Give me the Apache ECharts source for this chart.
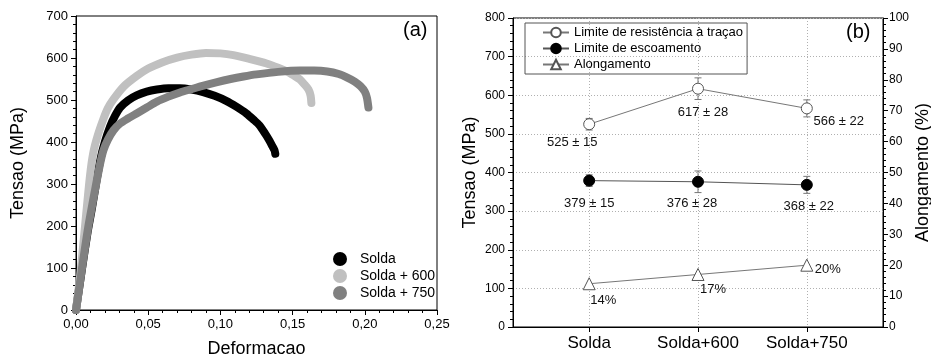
<!DOCTYPE html>
<html>
<head>
<meta charset="utf-8">
<script src="https://cdn.jsdelivr.net/npm/echarts@6/dist/echarts.min.js"></script>
<style>
html,body{margin:0;padding:0;background:#fff;}
#c{width:931px;height:357px;}
</style>
</head>
<body>
<div id="c"></div>
<script>
// ---------- Panel (a): stress-strain curves ----------
const strainSolda = [0, 0.004, 0.008, 0.0109, 0.0143, 0.017, 0.020, 0.0235, 0.027, 0.0305, 0.036, 0.042, 0.049, 0.056, 0.064, 0.072, 0.080, 0.088, 0.096, 0.104, 0.111, 0.118, 0.123, 0.127, 0.131, 0.134, 0.136, 0.1375, 0.138];
const stressSolda = [0, 95, 185, 240, 310, 360, 400, 436, 462, 482, 499, 511, 520, 525, 528, 528, 525, 519, 510, 498, 484, 468, 453, 440, 420, 403, 390, 380, 372];

const strain600 = [0, 0.003, 0.006, 0.0097, 0.012, 0.015, 0.019, 0.022, 0.026, 0.033, 0.042, 0.050, 0.060, 0.070, 0.080, 0.090, 0.100, 0.109, 0.120, 0.132, 0.140, 0.146, 0.151, 0.155, 0.158, 0.161, 0.1625, 0.163];
const stress600 = [0, 85, 190, 320, 375, 415, 455, 480, 502, 532, 557, 575, 590, 601, 608, 612, 611, 607, 598, 587, 577, 568, 558, 549, 538, 525, 510, 493];

const strain750 = [0, 0.005, 0.0085, 0.0132, 0.0165, 0.019, 0.022, 0.026, 0.0305, 0.036, 0.042, 0.049, 0.056, 0.064, 0.072, 0.080, 0.087, 0.097, 0.107, 0.116, 0.125, 0.140, 0.155, 0.165, 0.174, 0.182, 0.1875, 0.193, 0.197, 0.200, 0.2015, 0.2025];
const stress750 = [0, 119, 198, 286, 345, 380, 405, 428, 444, 456, 468, 482, 496, 508, 518, 526, 533, 542, 550, 556, 561, 567, 570, 570, 568, 562, 554, 544, 533, 520, 505, 482];

const curveNames = ['Solda', 'Solda + 600', 'Solda + 750'];

// ---------- Panel (b): properties ----------
const categories = ['Solda', 'Solda+600', 'Solda+750'];
const utsValues = [525, 617, 566];
const utsErrors = [15, 28, 22];
const yieldValues = [379, 376, 368];
const yieldErrors = [15, 28, 22];
const elongValues = [14, 17, 20];
const seriesNamesB = ['Limite de resistência à traçao', 'Limite de escoamento', 'Alongamento'];

// label placement (pixels, relative to point) - layout only
const utsLabelOffsets = [[-17, 18], [5, 24], [32, 13]];
const yieldLabelOffsets = [[0, 23], [-6, 22], [2, 22]];
const elongLabelOffsets = [[14, 17], [15, 15], [21, 4]];

const FONT = '"Liberation Sans", Arial, Helvetica, sans-serif';
const pair = (xs, ys) => xs.map((x, i) => [x, ys[i]]);

function errorBarSeries(values, errors, name) {
  return {
    type: 'custom',
    name: name,
    xAxisIndex: 1, yAxisIndex: 1,
    z: 1,
    silent: true,
    data: values.map((v, i) => [i + 1, v - errors[i], v + errors[i]]),
    encode: { x: 0, y: [1, 2] },
    renderItem: function (params, api) {
      const x = api.value(0);
      const lo = api.coord([x, api.value(1)]);
      const hi = api.coord([x, api.value(2)]);
      const w = 3.5;
      const st = { stroke: '#777', lineWidth: 1 };
      return {
        type: 'group',
        children: [
          { type: 'line', shape: { x1: hi[0], y1: hi[1], x2: lo[0], y2: lo[1] }, style: st },
          { type: 'line', shape: { x1: hi[0] - w, y1: hi[1], x2: hi[0] + w, y2: hi[1] }, style: st },
          { type: 'line', shape: { x1: lo[0] - w, y1: lo[1], x2: lo[0] + w, y2: lo[1] }, style: st }
        ]
      };
    }
  };
}

function labelled(values, offsets, fmt) {
  return values.map((v, i) => ({
    value: [i + 1, v],
    label: { offset: offsets[i], formatter: fmt(i) }
  }));
}

const axisLineBlack = { show: true, lineStyle: { color: '#000', width: 1 } };
const tickLbl = { color: '#000', fontFamily: FONT };

function curveSeries(name, xs, ys, color, z) {
  return {
    name: name, type: 'line', xAxisIndex: 0, yAxisIndex: 0,
    data: pair(xs, ys), smooth: 0.25, showSymbol: false, symbol: 'none',
    color: color, lineStyle: { width: 8, cap: 'round', join: 'round', color: color }, z: z
  };
}

const option = {
  animation: false,
  backgroundColor: '#fff',
  textStyle: { fontFamily: FONT },
  title: [
    { text: '(a)', left: 403, top: 20, textStyle: { fontSize: 20, fontWeight: 'normal', color: '#000', fontFamily: FONT }, padding: 0 },
    { text: '(b)', left: 846, top: 22, textStyle: { fontSize: 20, fontWeight: 'normal', color: '#000', fontFamily: FONT }, padding: 0 }
  ],
  legend: [
    {
      data: curveNames,
      orient: 'vertical',
      left: 333, top: 252,
      icon: 'circle',
      itemWidth: 30, itemHeight: 14, itemGap: 3,
      padding: 0,
      textStyle: { fontSize: 14, color: '#000', fontFamily: FONT },
      selectedMode: false
    },
    {
      data: seriesNamesB,
      orient: 'vertical',
      left: 525, top: 23,
      itemWidth: 26, itemHeight: 12, itemGap: 3,
      padding: [3, 4, 3, 17],
      borderColor: '#555', borderWidth: 1,
      textStyle: { fontSize: 13, color: '#000', fontFamily: FONT },
      selectedMode: false
    }
  ],
  grid: [
    { left: 76, right: 494, top: 16, bottom: 47, outerBoundsMode: 'none', containLabel: false, show: true, borderColor: '#000', borderWidth: 1, backgroundColor: 'transparent' },
    { left: 513, right: 48, top: 18, bottom: 30, outerBoundsMode: 'none', containLabel: false, show: true, borderColor: '#000', borderWidth: 1, backgroundColor: 'transparent' }
  ],
  xAxis: [
    {
      gridIndex: 0, type: 'value', min: 0, max: 0.25, interval: 0.05,
      name: 'Deformacao', nameLocation: 'middle', nameGap: 30, nameMoveOverlap: false,
      nameTextStyle: { fontSize: 18, color: '#000', fontFamily: FONT },
      axisLine: axisLineBlack,
      axisTick: { show: true, inside: false, length: 5, lineStyle: { color: '#000' } },
      minorTick: { show: true, splitNumber: 5, length: 3, lineStyle: { color: '#000' } },
      axisLabel: Object.assign({ fontSize: 13, margin: 8, formatter: v => v.toFixed(2).replace('.', ',') }, tickLbl),
      splitLine: { show: false }
    },
    {
      gridIndex: 1, type: 'value', min: 0.3, max: 3.7,
      axisLine: axisLineBlack,
      axisTick: { show: true, inside: false, length: 5, customValues: [1, 2, 3], lineStyle: { color: '#000' } },
      axisLabel: Object.assign({ fontSize: 17, margin: 8, customValues: [1, 2, 3], formatter: v => categories[Math.round(v) - 1] || '' }, tickLbl),
      splitLine: { show: true, lineStyle: { color: '#b0b0b0', type: [1, 2], width: 1 } }
    }
  ],
  yAxis: [
    {
      gridIndex: 0, type: 'value', min: 0, max: 700, interval: 100,
      name: 'Tensao (MPa)', nameLocation: 'middle', nameGap: 49, nameRotate: 90, nameMoveOverlap: false,
      nameTextStyle: { fontSize: 18, color: '#000', fontFamily: FONT },
      axisLine: axisLineBlack,
      axisTick: { show: true, inside: false, length: 5, lineStyle: { color: '#000' } },
      minorTick: { show: true, splitNumber: 5, length: 3, lineStyle: { color: '#000' } },
      axisLabel: Object.assign({ fontSize: 13, margin: 8 }, tickLbl),
      splitLine: { show: false }
    },
    {
      gridIndex: 1, type: 'value', min: 0, max: 800, interval: 100, position: 'left',
      name: 'Tensao (MPa)', nameLocation: 'middle', nameGap: 34, nameRotate: 90, nameMoveOverlap: false,
      nameTextStyle: { fontSize: 18, color: '#000', fontFamily: FONT },
      axisLine: axisLineBlack,
      axisTick: { show: true, inside: false, length: 5, lineStyle: { color: '#000' } },
      minorTick: { show: true, splitNumber: 5, length: 3, lineStyle: { color: '#000' } },
      axisLabel: Object.assign({ fontSize: 12, margin: 8 }, tickLbl),
      splitLine: { show: true, lineStyle: { color: '#b0b0b0', type: [1, 2], width: 1 } }
    },
    {
      gridIndex: 1, type: 'value', min: 0, max: 100, interval: 10, position: 'right',
      name: 'Alongamento (%)', nameLocation: 'middle', nameGap: 31, nameRotate: 90, nameMoveOverlap: false,
      nameTextStyle: { fontSize: 18, color: '#000', fontFamily: FONT },
      axisLine: axisLineBlack,
      axisTick: { show: true, inside: false, length: 5, lineStyle: { color: '#000' } },
      minorTick: { show: true, splitNumber: 5, length: 3, lineStyle: { color: '#000' } },
      axisLabel: Object.assign({ fontSize: 12, margin: 6 }, tickLbl),
      splitLine: { show: false }
    }
  ],
  series: [
    curveSeries(curveNames[0], strainSolda, stressSolda, '#000000', 2),
    curveSeries(curveNames[1], strain600, stress600, '#c0c0c0', 3),
    curveSeries(curveNames[2], strain750, stress750, '#808080', 4),
    errorBarSeries(utsValues, utsErrors, 'errUTS'),
    errorBarSeries(yieldValues, yieldErrors, 'errYield'),
    {
      name: seriesNamesB[0], type: 'line', xAxisIndex: 1, yAxisIndex: 1, z: 3,
      symbol: 'circle', symbolSize: 11,
      itemStyle: { color: '#fff', borderColor: '#555', borderWidth: 1 },
      lineStyle: { color: '#777', width: 1 },
      label: { show: true, position: 'inside', fontSize: 13, color: '#111', fontFamily: FONT },
      data: labelled(utsValues, utsLabelOffsets, i => utsValues[i] + ' ± ' + utsErrors[i])
    },
    {
      name: seriesNamesB[1], type: 'line', xAxisIndex: 1, yAxisIndex: 1, z: 3,
      symbol: 'circle', symbolSize: 11,
      itemStyle: { color: '#000', borderColor: '#000', borderWidth: 1 },
      lineStyle: { color: '#555', width: 1 },
      label: { show: true, position: 'inside', fontSize: 13, color: '#111', fontFamily: FONT },
      data: labelled(yieldValues, yieldLabelOffsets, i => yieldValues[i] + ' ± ' + yieldErrors[i])
    },
    {
      name: seriesNamesB[2], type: 'line', xAxisIndex: 1, yAxisIndex: 2, z: 3,
      symbol: 'triangle', symbolSize: 12,
      itemStyle: { color: '#fff', borderColor: '#555', borderWidth: 1 },
      lineStyle: { color: '#777', width: 1 },
      label: { show: true, position: 'inside', fontSize: 13, color: '#111', fontFamily: FONT },
      data: labelled(elongValues, elongLabelOffsets, i => elongValues[i] + '%')
    }
  ]
};

const chart = echarts.init(document.getElementById('c'), null, { renderer: 'canvas' });
chart.setOption(option);
</script>
</body>
</html>
